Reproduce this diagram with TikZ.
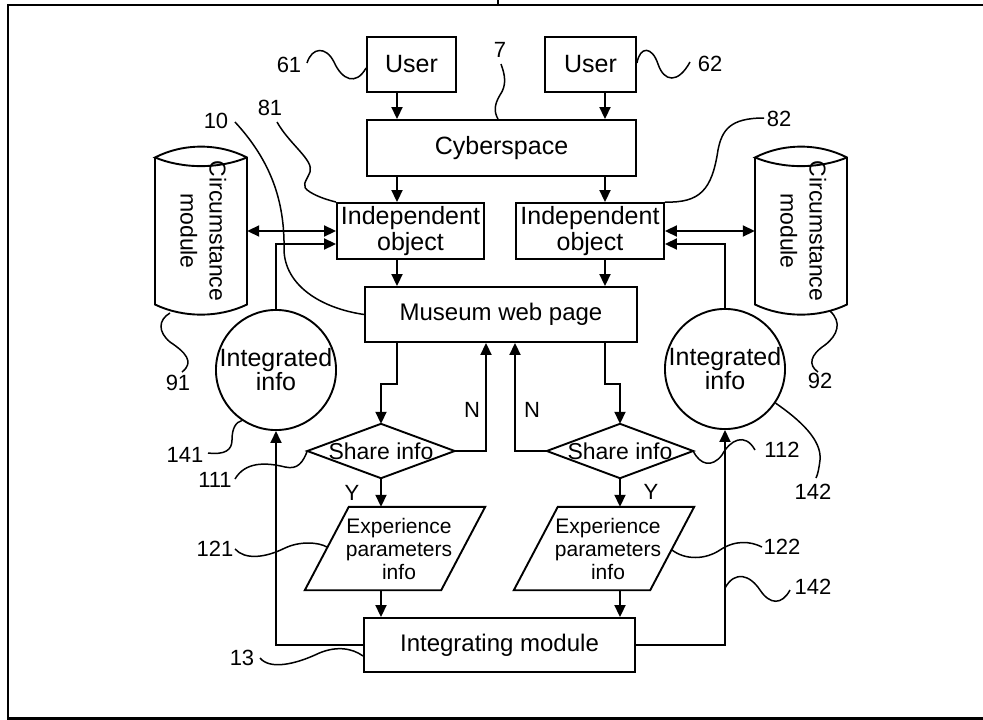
\documentclass[tikz,border=0pt]{standalone}
\usepackage{fontspec}
\setmainfont{Liberation Sans}
\usetikzlibrary{arrows.meta,calc}

% outline of a circumstance-module drum around a (borderless) node
\newcommand\cylshape[1]{%
  \draw[ln] ($(#1.center)+(-46,-73.5)$)
      -- ($(#1.center)+(-46,73.5)$)
      .. controls ($(#1.center)+(-18,87)$) and ($(#1.center)+(18,87)$) .. ($(#1.center)+(46,73.5)$)
      -- ($(#1.center)+(46,-73.5)$)
      .. controls ($(#1.center)+(18,-88)$) and ($(#1.center)+(-18,-88)$) .. ($(#1.center)+(-46,-73.5)$)
      .. controls ($(#1.center)+(-18,-62)$) and ($(#1.center)+(18,-62)$) .. ($(#1.center)+(46,-73.5)$);}

% slanted input/output box around a (borderless) node
\newcommand\slantshape[1]{%
  \draw[ln] ($(#1.north west)+(44,0)$) -- (#1.north east)
      -- ($(#1.south east)+(-44,0)$) -- (#1.south west) -- cycle;}

\begin{document}
\begin{tikzpicture}[x=1pt,y=-1pt,
  every node/.style={font=\fontsize{25}{26}\selectfont, inner sep=0pt, align=center},
  ln/.style={line width=1.9pt, line join=miter},
  box/.style={draw, ln},
  arr/.style={ln, -{Triangle[length=12pt,width=11pt]}},
  darr/.style={ln, {Triangle[length=12pt,width=11pt]}-{Triangle[length=12pt,width=11pt]}},
  lead/.style={line width=1.5pt},
  num/.style={font=\fontsize{22}{24}\selectfont},
  paramtext/.style={font=\fontsize{21}{23}\selectfont}
]
\useasboundingbox (0,0) rectangle (983,720);

% sheet frame
\draw[line width=2.2pt] (983,5) -- (8,5) -- (8,718.5) -- (983,718.5);
\draw[line width=2pt] (498,0) -- (498,5);

% arrow columns
\coordinate (cL) at (397,0);
\coordinate (cR) at (605,0);
\coordinate (nL) at (486,0);
\coordinate (nR) at (515,0);

% main boxes
\node[box, minimum width=89, minimum height=55] (u1) at (411.5,64.5) {User};
\node[box, minimum width=91, minimum height=55] (u2) at (590.5,64.5) {User};
\node[box, minimum width=269, minimum height=56] (cy) at (501.5,148) {Cyberspace};
\node[box, minimum width=147, minimum height=56] (io1) at (410.5,231) {Independent\\object};
\node[box, minimum width=148, minimum height=56] (io2) at (590,231) {Independent\\object};
\node[box, minimum width=272, minimum height=55, font=\fontsize{24}{26}\selectfont] (mw) at (501,314.5) {Museum web page};
\node[box, minimum width=271, minimum height=54, font=\fontsize{24}{26}\selectfont] (im) at (499.5,645) {Integrating module};

% circumstance modules
\node[minimum width=92, minimum height=147] (cm1) at (201,231)
  {\rotatebox{-90}{\fontsize{23}{29}\selectfont\begin{tabular}{@{}c@{}}Circumstance\\module\end{tabular}}};
\node[minimum width=92, minimum height=147] (cm2) at (801,231)
  {\rotatebox{-90}{\fontsize{23}{29}\selectfont\begin{tabular}{@{}c@{}}Circumstance\\module\end{tabular}}};
\cylshape{cm1}
\cylshape{cm2}

% integrated info
\node[box, circle, minimum size=120, font=\fontsize{25}{24}\selectfont] (ii1) at (276,370) {Integrated\\info};
\node[box, circle, minimum size=120, font=\fontsize{25}{24}\selectfont] (ii2) at (725,369) {Integrated\\info};

% decisions
\node[minimum width=147, minimum height=54, font=\fontsize{23}{26}\selectfont] (sh1) at (381,451) {Share info};
\node[minimum width=146, minimum height=54, font=\fontsize{23}{26}\selectfont] (sh2) at (620,451) {Share info};
\draw[ln] (sh1.north) -- (sh1.east) -- (sh1.south) -- (sh1.west) -- cycle;
\draw[ln] (sh2.north) -- (sh2.east) -- (sh2.south) -- (sh2.west) -- cycle;

% experience parameters
\node[minimum width=180, minimum height=83, paramtext] (ep1) at (395,548.5) {\hspace*{8pt}Experience\\\hspace*{8pt}parameters\\\hspace*{8pt}info};
\node[minimum width=180, minimum height=83, paramtext] (ep2) at (604,548.5) {\hspace*{8pt}Experience\\\hspace*{8pt}parameters\\\hspace*{8pt}info};
\slantshape{ep1}
\slantshape{ep2}

% flow
\draw[arr] (u1.south -| cL) -- (cy.north -| cL);
\draw[arr] (u2.south -| cR) -- (cy.north -| cR);
\draw[arr] (cy.south -| cL) -- (io1.north -| cL);
\draw[arr] (cy.south -| cR) -- (io2.north -| cR);
\draw[arr] (io1.south -| cL) -- (mw.north -| cL);
\draw[arr] (io2.south -| cR) -- (mw.north -| cR);
\draw[arr] (mw.south -| cL) -- ++(0,41) -| (sh1.north);
\draw[arr] (mw.south -| cR) -- ++(0,41) -| (sh2.north);
\draw[arr] (sh1.east) -| (mw.south -| nL);
\draw[arr] (sh2.west) -| (mw.south -| nR);
\draw[arr] (sh1.south) -- (ep1.north -| sh1.south);
\draw[arr] (sh2.south) -- (ep2.north -| sh2.south);
\draw[arr] (ep1.south -| sh1.south) -- (im.north -| sh1.south);
\draw[arr] (ep2.south -| sh2.south) -- (im.north -| sh2.south);
\draw[arr] (im.west) -| (ii1.south);
\draw[arr] (im.east) -| (ii2.south);
\draw[darr] (cm1.east) -- (cm1.east -| io1.west);
\draw[darr] (cm2.west) -- (cm2.west -| io2.east);
\draw[arr] (ii1.north) |- ($(io1.west)+(0,13)$);
\draw[arr] (ii2.north) |- ($(io2.east)+(0,13)$);

% branch labels
\node[num] (nLt) at (472,410) {N};
\node[num] (nRt) at (532,410) {N};
\node[num] (yLt) at (352,493) {Y};
\node[num] (yRt) at (651,492) {Y};

% reference numerals
\node[num] (l61) at (289,65) {61};
\node[num] (l62) at (710,64) {62};
\node[num] (l7) at (500,50) {7};
\node[num] (l10) at (216,121) {10};
\node[num] (l81) at (270,108) {81};
\node[num] (l82) at (779,119) {82};
\node[num] (l91) at (178,383) {91};
\node[num] (l92) at (820,381) {92};
\node[num] (l141) at (185,455) {141};
\node[num] (l111) at (215,480) {111};
\node[num] (l121) at (215,549) {121};
\node[num] (l13) at (242,658) {13};
\node[num] (l112) at (782,450) {112};
\node[num] (l142a) at (813,492) {142};
\node[num] (l142b) at (813,587) {142};
\node[num] (l122) at (782,547) {122};

% leader lines
\draw[lead] (307,63) .. controls (312,47) and (326,46) .. (334,62)
            .. controls (342,80) and (356,86) .. (u1.west |- 0,68);
\draw[lead] (u2.east |- 0,63) .. controls (640,46) and (652,46) .. (658,64)
            .. controls (664,82) and (678,84) .. (690,62);
\draw[lead] (501,64) .. controls (505,75) and (507,85) .. (500,95)
            .. controls (494,105) and (494,112) .. (cy.north -| 498,0);
\draw[lead] (235,122) .. controls (270,160) and (285,200) .. (284,250)
            .. controls (285,285) and (320,308) .. (mw.west);
\draw[lead] (277,122) .. controls (290,145) and (314,160) .. (310,172)
            .. controls (306,182) and (300,186) .. (310,192)
            .. controls (318,197) and (328,200) .. (io1.north west);
\draw[lead] (764,118) .. controls (730,118) and (722,130) .. (718,150)
            .. controls (712,190) and (700,203) .. (io2.north east);
\draw[lead] (170,313) .. controls (158,320) and (158,332) .. (170,342)
            .. controls (185,352) and (195,362) .. (182,372);
\draw[lead] (830,311) .. controls (842,322) and (838,335) .. (825,345)
            .. controls (810,355) and (808,365) .. (818,372);
\draw[lead] (208,453) .. controls (225,455) and (232,450) .. (232,440)
            .. controls (232,428) and (236,422) .. (ii1.236);
\draw[lead] (235,479) .. controls (245,462) and (265,462) .. (285,467)
            .. controls (298,470) and (303,462) .. (sh1.west);
\draw[lead] (235,549) .. controls (245,560) and (265,558) .. (285,548)
            .. controls (300,541) and (318,542) .. (327,547);
\draw[lead] (260,658) .. controls (270,670) and (295,664) .. (315,655)
            .. controls (335,645) and (352,648) .. (im.west |- 0,656);
\draw[lead] (sh2.east) .. controls (700,465) and (712,468) .. (722,455)
            .. controls (730,440) and (745,432) .. (755,450);
\draw[lead] (ii2.-34) .. controls (800,420) and (822,440) .. (820,460)
            .. controls (819,468) and (818,474) .. (816,478);
\draw[lead] (725,588) .. controls (735,570) and (750,575) .. (760,590)
            .. controls (770,605) and (782,605) .. (790,590);
\draw[lead] (672,550) .. controls (685,560) and (705,560) .. (720,550)
            .. controls (735,540) and (750,541) .. (762,547);
\end{tikzpicture}
\end{document}
